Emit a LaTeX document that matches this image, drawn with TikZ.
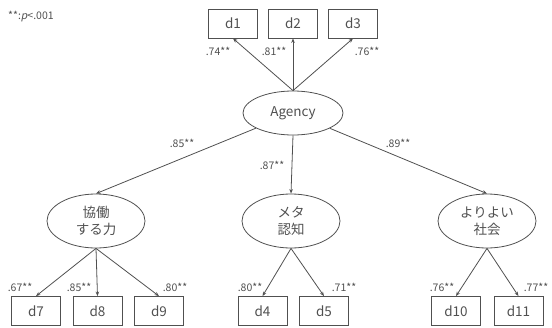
\documentclass[tikz,border=0pt]{standalone}
\usepackage{fontspec}
\setmainfont{Noto Sans CJK JP}[ItalicFont={Noto Sans CJK JP}, ItalicFeatures={FakeSlant=0.2}]
\usetikzlibrary{shapes.geometric,arrows.meta}
\definecolor{ink}{HTML}{505050}
\tikzset{
  obs/.style={draw=ink, line width=0.8pt, minimum width=49pt, minimum height=29pt, inner sep=0pt, text=ink, font=\fontsize{13.5}{15}\selectfont},
  lat/.style={draw=ink, line width=0.8pt, ellipse, inner sep=0pt, text=ink, align=center, font=\fontsize{13.5}{17}\selectfont},
  coef/.style={text=ink, inner sep=0pt, font=\fontsize{10.5}{12}\selectfont},
  path/.style={draw=ink, line width=0.8pt, -{Stealth[length=4.5pt,width=3.5pt]}}
}
\begin{document}
\begin{tikzpicture}[x=1pt,y=-1pt]
\useasboundingbox (0,0) rectangle (552,327);
\node[coef, anchor=west] (note) at (8,17) {**:\textit{p}<.001};
% top
\node[obs] (d1) at (233,23.5) {d1};
\node[obs] (d2) at (293,23.5) {d2};
\node[obs] (d3) at (353,23.5) {d3};
\node[lat, minimum width=100pt, minimum height=44pt] (ag) at (293,113) {Agency};
% latent
\node[lat, minimum width=98pt, minimum height=54pt] (c1) at (96,221) {協働\\する力};
\node[lat, minimum width=98pt, minimum height=54pt] (c2) at (291,221) {メタ\\認知};
\node[lat, minimum width=98pt, minimum height=54pt] (c3) at (487,221) {よりよい\\社会};
% bottom
\node[obs] (d7) at (36,311) {d7};
\node[obs] (d8) at (97.5,311) {d8};
\node[obs] (d9) at (159,311) {d9};
\node[obs] (d4) at (262.5,311) {d4};
\node[obs] (d5) at (324,311) {d5};
\node[obs] (d10) at (456,311) {d10};
\node[obs] (d11) at (518.5,311) {d11};
% paths
\draw[path] (ag.north) -- (d1.south);
\draw[path] (ag.north) -- (d2.south);
\draw[path] (ag.north) -- (d3.south);
\draw[path] (ag) -- (c1.north);
\draw[path] (ag.south) -- (c2.north);
\draw[path] (ag) -- (c3.north);
\draw[path] (c1.south) -- (d7.north);
\draw[path] (c1.south) -- (d8.north);
\draw[path] (c1.south) -- (d9.north);
\draw[path] (c2.south) -- (d4.north);
\draw[path] (c2.south) -- (d5.north);
\draw[path] (c3.south) -- (d10.north);
\draw[path] (c3.south) -- (d11.north);
% coefficients
\node[coef] (l1) at (218,51) {.74**};
\node[coef] (l2) at (274,51) {.81**};
\node[coef] (l3) at (367,51) {.76**};
\node[coef] (l4) at (182,143) {.85**};
\node[coef] (l5) at (272,165) {.87**};
\node[coef] (l6) at (398,143) {.89**};
\node[coef] (l7) at (20,287) {.67**};
\node[coef] (l8) at (79,287) {.85**};
\node[coef] (l9) at (175,287) {.80**};
\node[coef] (l10) at (250,287) {.80**};
\node[coef] (l11) at (344,287) {.71**};
\node[coef] (l12) at (442,287) {.76**};
\node[coef] (l13) at (536,287) {.77**};
\end{tikzpicture}
\end{document}
